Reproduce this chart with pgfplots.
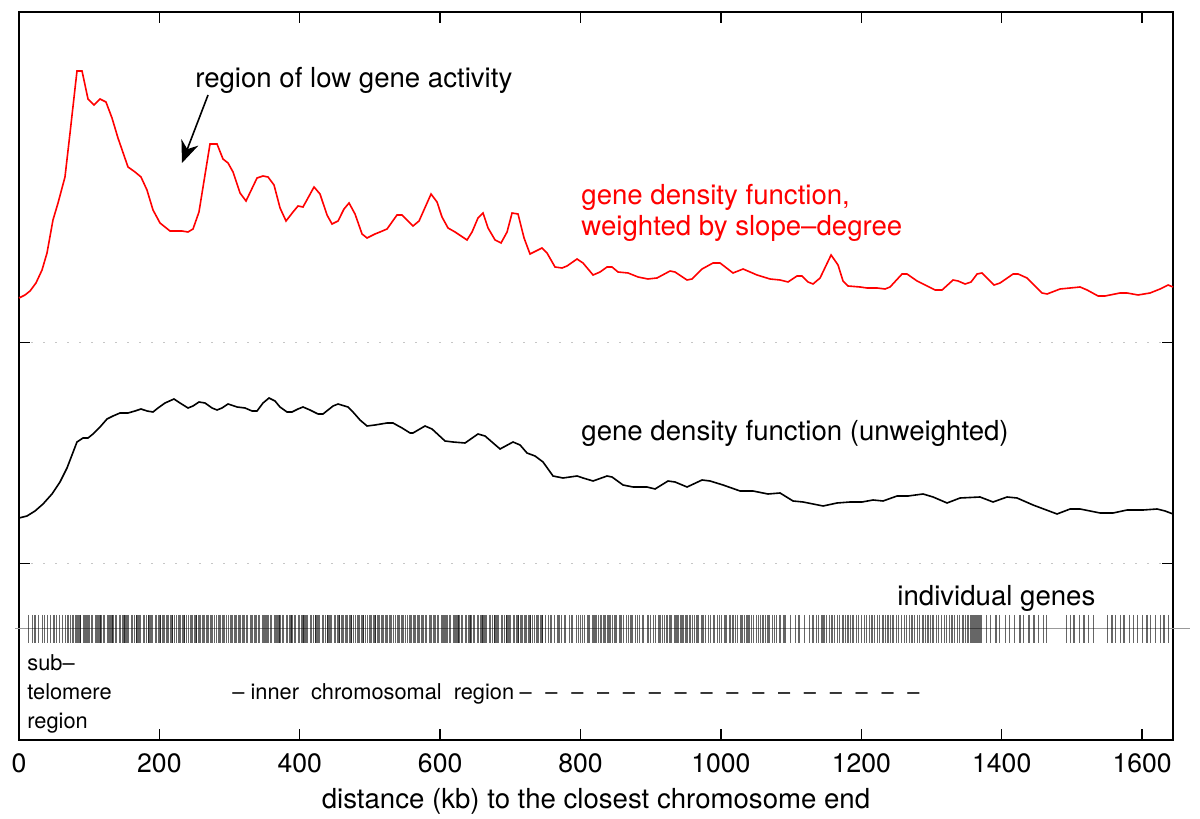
\documentclass[border=0pt]{standalone}
\usepackage{pgfplots}
\pgfplotsset{compat=1.18}
\usepackage{fontspec}
\setmainfont{TeX Gyre Heros}
\usetikzlibrary{arrows.meta}

\begin{document}
\begin{tikzpicture}
\path[use as bounding box] (-9.5pt,-39.5pt) rectangle (590.5pt,370pt);
\begin{axis}[
  scale only axis, width=577pt, height=364pt,
  xmin=0, xmax=1644, ymin=0, ymax=728,
  xtick={0,200,...,1600},
  ytick={176.5,397.5}, yticklabels={},
  tick align=inside, major tick length=5.5pt,
  axis line style={line width=0.7pt},
  tick style={line width=0.7pt, black},
  ymajorgrids, grid style={line width=0.5pt, gray!45, dash pattern=on 1pt off 5pt},
  clip=false,
  /pgf/number format/assume math mode=true,
  /pgf/number format/set thousands separator={},
  xticklabel style={font=\fontsize{13.3}{15}\selectfont, yshift=-3.5pt},
  xlabel={distance (kb) to the closest chromosome end},
  xlabel style={at={(rel axis cs:0.5,0)}, anchor=base, yshift=-34pt, font=\fontsize{13.8}{16}\selectfont},
]
% red: weighted gene density
\addplot[red, line width=0.8pt] table {
0 442
8.5 445
15.7 449
24.2 457
32.8 470
39.9 487
48.4 520
55.6 537
65.5 563
72.7 607
82.6 669
89.8 669
98.3 641
106.8 635
115.4 641
123.9 638
132.5 622
141.0 602
155.3 573
165.3 568
173.8 563
182.3 550
190.9 530
200.9 517
215.1 509
232.2 509
240.8 508
247.9 511
256.4 528
272.1 596
282.1 596
290.6 581
297.8 577
304.9 568
314.9 547
323.4 539
339.1 562
347.6 564
354.8 563
363.3 555
371.9 532
380.4 519
390.4 528
397.5 534
404.6 533
420.3 553
428.8 546
438.8 525
445.9 516
454.5 519
463.0 531
470.2 537
478.7 526
488.7 506
495.8 502
507.2 506
514.3 508
524.3 511
538.5 525
545.7 525
561.3 514
569.9 519
587.0 546
595.5 538
602.6 523
611.2 512
621.2 508
638.3 500
645.4 508
653.9 522
661.1 527
668.2 512
678.2 500
686.7 497
695.3 508
702.4 527
710.9 526
719.5 502
728.0 486
745.1 492
752.2 487
763.6 473
773.6 472
780.7 474
795.0 481
803.5 477
817.8 465
827.8 468
837.7 473
844.8 473
853.4 468
867.6 467
881.9 463
896.1 461
908.9 462
927.5 469
934.6 468
951.7 460
958.8 461
973.1 471
988.7 477
998.7 477
1017.2 467
1031.5 471
1051.4 465
1069.9 461
1084.2 460
1095.6 458
1108.4 464
1115.5 464
1124.1 458
1131.2 456
1141.2 462
1156.9 485
1166.8 475
1173.9 459
1181.1 454
1198.2 453
1208.1 452
1222.4 452
1233.8 451
1240.9 453
1258.0 466
1265.1 466
1279.4 459
1293.6 454
1305.0 450
1315.0 450
1330.7 460
1337.8 459
1347.8 456
1356.3 458
1364.9 466
1372.0 467
1389.1 455
1397.6 457
1416.2 466
1423.3 466
1436.1 462
1457.5 447
1464.6 446
1483.1 451
1497.4 452
1511.6 453
1521.6 450
1537.3 444
1547.2 444
1568.6 447
1578.6 447
1594.3 445
1611.3 447
1625.6 451
1637.0 455
1644.0 453
};
% black: unweighted gene density
\addplot[black, line width=0.8pt] table {
0 222
11.4 224
22.8 229
34.2 236
47.0 246
58.4 258
68.4 272
75.5 285
82.6 298
91.2 302
98.3 302
105.4 306
115.4 313
125.4 321
133.9 324
143.9 327
155.3 327
165.3 329
173.8 331
182.4 329
190.9 328
198.0 332
208.0 337
220.8 341
229.4 337
240.8 332
247.9 334
256.4 338
265.0 337
275.0 332
282.1 330
289.2 332
297.8 336
310.6 333
322.0 332
332.0 329
339.1 329
347.6 337
356.2 342
364.7 339
371.8 333
381.8 328
388.9 328
397.5 331
404.6 333
414.6 330
426.0 326
433.1 326
447.4 334
454.5 336
468.7 333
475.8 328
485.8 320
495.8 314
507.2 315
524.3 317
532.8 317
545.7 312
557.1 307
561.3 307
578.4 314
588.4 311
606.9 299
618.3 298
635.4 297
653.9 306
663.9 304
685.3 291
703.8 298
713.8 295
723.7 287
735.1 284
746.5 278
760.8 264
775.0 262
795.0 264
803.5 262
817.8 259
837.7 264
844.8 263
860.5 255
874.8 253
894.7 253
906.1 251
924.6 259
934.6 258
951.7 253
973.1 260
984.5 259
1003.0 255
1027.2 249
1045.7 249
1067.1 246
1084.2 247
1102.7 239
1117.0 238
1145.5 234
1165.4 237
1183.9 238
1201.0 238
1216.7 240
1230.9 239
1250.9 244
1266.6 244
1287.9 246
1302.2 243
1322.1 237
1340.6 242
1369.1 243
1387.6 238
1407.6 243
1421.8 242
1444.6 235
1478.8 226
1497.4 231
1511.6 231
1540.1 227
1558.6 227
1578.6 230
1601.4 230
1621.3 231
1632.7 229
1644.0 226
};
% individual genes
\addplot[black, opacity=0.6, line width=0.65pt, only marks, mark=|, mark size=7pt] table[x index=0, y expr=111, header=false] {
14
19
23
28
33
36
41
45
50
53
58
62
66
70
73
77
80
82
84
87
88
92
94
97
99
100
103
105
109
111
114
116
117
120
122
126
128
131
133
134
137
139
143
145
148
150
151
154
156
160
162
165
167
168
171
173
177
179
182
184
185
188
190
194
196
199
201
202
205
207
211
213
216
218
219
222
224
228
230
233
235
236
239
241
245
247
250
252
253
256
258
262
264
267
269
270
273
275
279
281
284
286
287
290
292
296
298
301
303
304
307
309
313
315
318
320
321
324
326
330
332
335
337
338
341
343
347
349
352
354
355
358
360
364
366
369
371
372
375
377
381
383
386
388
389
392
394
398
400
403
405
406
409
411
415
417
420
422
423
426
428
432
434
437
439
440
443
445
449
451
454
456
457
460
462
466
468
471
473
474
477
479
483
485
488
490
491
494
496
500
502
505
507
508
511
513
517
519
522
524
525
528
530
534
536
539
541
542
545
547
551
553
556
558
559
562
564
568
570
573
575
576
579
581
585
587
590
592
593
596
598
602
604
607
609
610
613
615
619
621
624
626
627
630
632
636
638
641
643
644
647
649
653
655
658
660
661
664
666
670
672
675
677
678
681
683
687
689
692
694
695
698
700
704
706
709
711
712
715
717
721
723
726
728
729
732
734
738
740
743
745
746
750
754
757
759
763
768
770
773
777
779
784
787
789
794
797
800
803
806
810
812
817
819
822
826
829
833
835
839
842
845
849
851
856
858
861
865
868
872
874
878
881
884
888
890
895
897
900
904
907
911
913
917
920
923
927
929
934
936
939
943
946
950
952
956
959
962
966
968
973
975
978
982
985
989
991
995
998
1001
1005
1007
1012
1014
1017
1021
1024
1028
1030
1034
1037
1040
1044
1046
1051
1053
1056
1060
1063
1067
1069
1073
1076
1079
1083
1085
1090
1092
1099
1106
1111
1119
1126
1131
1136
1139
1144
1147
1150
1155
1158
1162
1166
1169
1174
1177
1181
1185
1188
1193
1196
1200
1204
1207
1212
1215
1219
1223
1226
1231
1234
1238
1242
1245
1250
1253
1257
1261
1264
1269
1272
1276
1280
1283
1288
1291
1295
1299
1302
1307
1310
1314
1318
1321
1326
1329
1333
1337
1340
1345
1348
1352
1356
1359
1362
1364
1365
1367
1369
1371
1378
1384
1392
1397
1405
1411
1418
1426
1431
1439
1446
1452
1459
1464
1492
1498
1503
1511
1517
1524
1531
1551
1557
1562
1569
1574
1582
1588
1593
1601
1607
1612
1619
1626
1631
1638
};
% baseline of the gene rug
\addplot[gray!80, line width=0.5pt] coordinates {(-5.7,111) (1668,111)};
% annotations
\node[anchor=base west, font=\fontsize{13.8}{16}\selectfont, inner sep=0pt] at (axis cs:250.7,652) {region of low gene activity};
\draw[-{Stealth[length=11pt,width=9pt]}, line width=0.8pt] (axis cs:269.3,645) -- (axis cs:232.2,577);
\node[anchor=base west, text=red, font=\fontsize{13.8}{16}\selectfont, inner sep=0pt] at (axis cs:800.7,535) {gene density function,};
\node[anchor=base west, text=red, font=\fontsize{13.8}{16}\selectfont, inner sep=0pt] at (axis cs:800.7,504) {weighted by slope\textendash degree};
\node[anchor=base west, font=\fontsize{13.8}{16}\selectfont, inner sep=0pt] at (axis cs:800.7,299) {gene density function (unweighted)};
\node[anchor=base west, font=\fontsize{13.8}{16}\selectfont, inner sep=0pt] at (axis cs:1250.9,134) {individual genes};
\node[anchor=base west, font=\fontsize{10.9}{13}\selectfont, inner sep=0pt] at (axis cs:11.4,69) {sub\textendash};
\node[anchor=base west, font=\fontsize{10.9}{13}\selectfont, inner sep=0pt] at (axis cs:11.4,40) {telomere};
\node[anchor=base west, font=\fontsize{10.9}{13}\selectfont, inner sep=0pt] at (axis cs:11.4,11) {region};
\node[anchor=base west, font=\fontsize{10.9}{13}\selectfont, inner sep=0pt] at (axis cs:303.5,40) {\textendash{} inner\hspace{0.55em}chromosomal\hspace{0.55em}region\hspace{0.25em}\textendash\hspace{0.63em}\textendash\hspace{0.63em}\textendash\hspace{0.63em}\textendash\hspace{0.63em}\textendash\hspace{0.63em}\textendash\hspace{0.63em}\textendash\hspace{0.63em}\textendash\hspace{0.63em}\textendash\hspace{0.63em}\textendash\hspace{0.63em}\textendash\hspace{0.63em}\textendash\hspace{0.63em}\textendash\hspace{0.63em}\textendash\hspace{0.63em}\textendash\hspace{0.63em}\textendash};
\end{axis}
\end{tikzpicture}
\end{document}
